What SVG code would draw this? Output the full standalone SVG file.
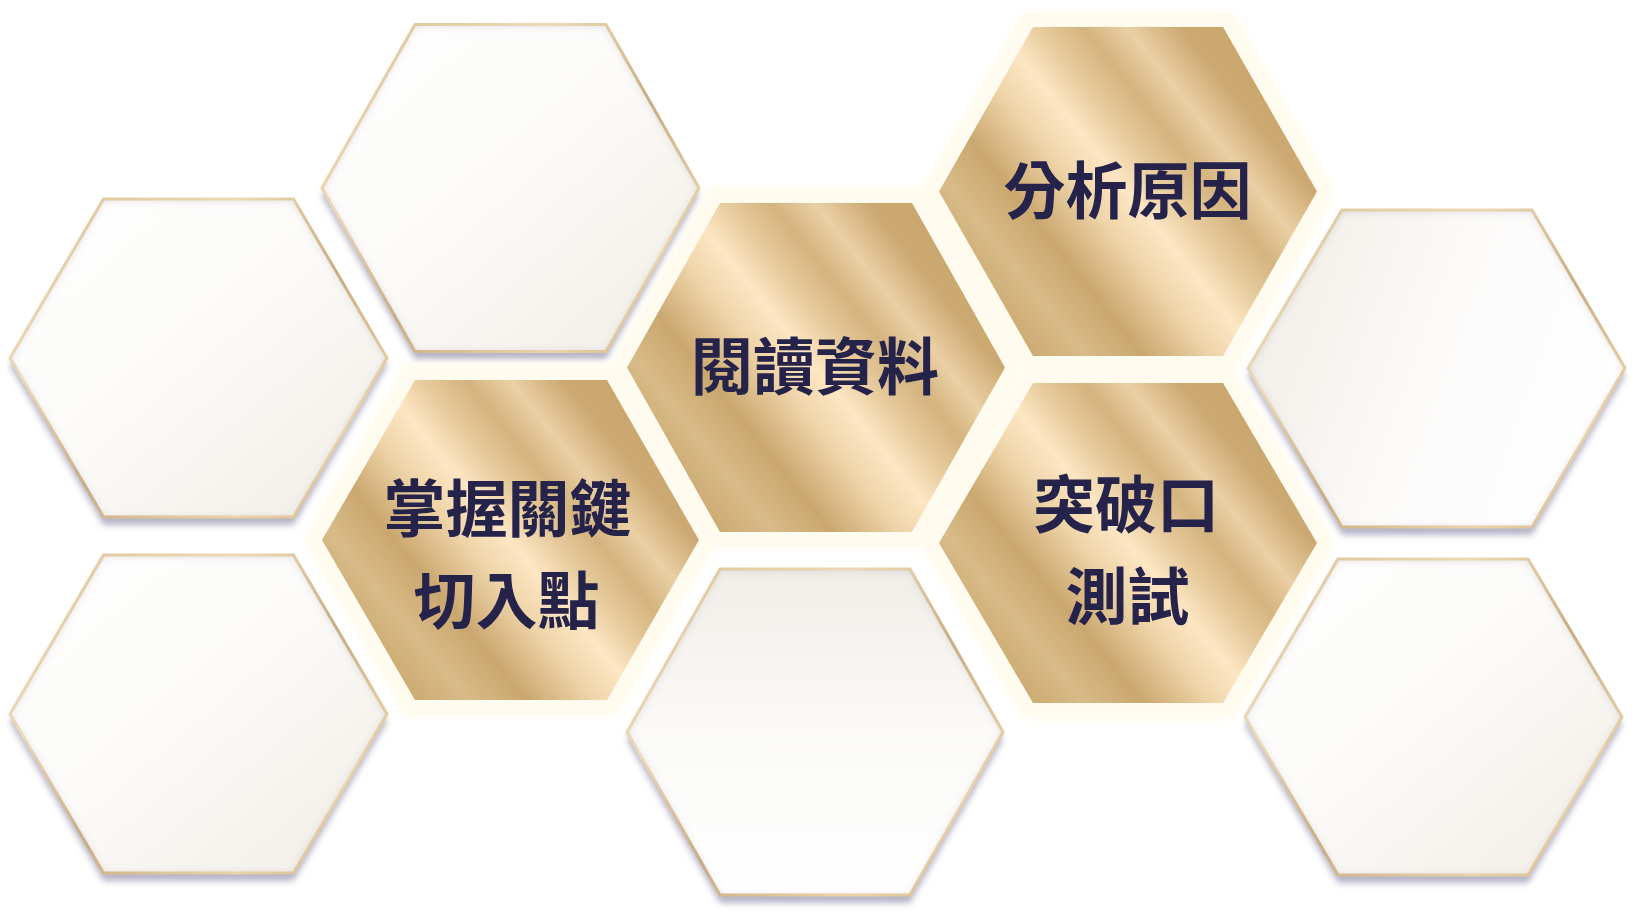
<svg xmlns="http://www.w3.org/2000/svg" xmlns:xlink="http://www.w3.org/1999/xlink" width="1635" height="918" viewBox="0 0 1635 918">
  <style>
    .shadow { fill: #a9a7bd; fill-opacity: 0.85; filter: url(#blurShadow); }
    .face { filter: url(#inset); }
    .rim { fill: none; stroke: url(#rimGrad); stroke-width: 3; stroke-linejoin: miter; }
    .glow { fill: #fffbee; stroke: #fffbee; stroke-width: 34; stroke-linejoin: round; filter: url(#blurGlow); }
    .gold { fill: url(#goldGrad); }
    .label { font-family: "Noto Sans CJK TC", "Noto Sans CJK SC", "Noto Sans", sans-serif; font-weight: 700; font-size: 62px; fill: #26234b; text-anchor: middle; dominant-baseline: central; }
  </style>
  <defs>
    <linearGradient id="goldGrad" x1="0.07" y1="0.8" x2="0.93" y2="0.2">
      <stop offset="0" stop-color="#c9a66d"/>
      <stop offset="0.14" stop-color="#d8bb88"/>
      <stop offset="0.26" stop-color="#caa76f"/>
      <stop offset="0.4" stop-color="#eed4a8"/>
      <stop offset="0.5" stop-color="#fde6c4"/>
      <stop offset="0.59" stop-color="#e6ca9b"/>
      <stop offset="0.68" stop-color="#d4b47f"/>
      <stop offset="0.77" stop-color="#ead0a5"/>
      <stop offset="0.88" stop-color="#cca972"/>
      <stop offset="1" stop-color="#c9a66c"/>
    </linearGradient>
    <linearGradient id="wA" x1="0" y1="0" x2="1" y2="1">
      <stop offset="0" stop-color="#ffffff"/>
      <stop offset="0.45" stop-color="#fcfbf9"/>
      <stop offset="1" stop-color="#f1ede5"/>
    </linearGradient>
    <linearGradient id="wB" x1="0" y1="0" x2="0" y2="1">
      <stop offset="0" stop-color="#f1eee8"/>
      <stop offset="0.5" stop-color="#fbfaf8"/>
      <stop offset="1" stop-color="#ffffff"/>
    </linearGradient>
    <linearGradient id="wC" x1="0" y1="0.35" x2="1" y2="0.65">
      <stop offset="0" stop-color="#f2eee7"/>
      <stop offset="0.5" stop-color="#fcfbfa"/>
      <stop offset="1" stop-color="#ffffff"/>
    </linearGradient>
    <linearGradient id="rimGrad" x1="0" y1="0" x2="1" y2="1">
      <stop offset="0" stop-color="#d9c195"/>
      <stop offset="0.3" stop-color="#ecd9b5"/>
      <stop offset="0.55" stop-color="#c9ad80"/>
      <stop offset="0.8" stop-color="#ead3a9"/>
      <stop offset="1" stop-color="#cdb183"/>
    </linearGradient>
    <filter id="blurShadow" x="-10%" y="-10%" width="120%" height="125%">
      <feGaussianBlur stdDeviation="3"/>
    </filter>
    <filter id="blurGlow" x="-15%" y="-15%" width="130%" height="130%">
      <feGaussianBlur stdDeviation="3"/>
    </filter>
    <filter id="inset" x="-5%" y="-5%" width="110%" height="110%">
      <feFlood flood-color="#aaa7bc" flood-opacity="0.5" result="c"/>
      <feComposite in="c" in2="SourceAlpha" operator="out" result="o"/>
      <feGaussianBlur in="o" stdDeviation="4" result="b"/>
      <feOffset in="b" dx="0" dy="1" result="bo"/>
      <feComposite in="bo" in2="SourceAlpha" operator="in" result="s"/>
      <feMerge><feMergeNode in="SourceGraphic"/><feMergeNode in="s"/></feMerge>
    </filter>
    <polygon id="p-w1" points="322,188 415,24.5 606,24.5 699,188 606,351.5 415,351.5"/>
    <polygon id="p-w2" points="10,358 103.5,199 293.5,199 387,358 293.5,517 103.5,517"/>
    <polygon id="p-w3" points="10,714 103.5,555 293.5,555 387,714 293.5,873 103.5,873"/>
    <polygon id="p-w4" points="627,732 720,569 910,569 1003,732 910,895 720,895"/>
    <polygon id="p-w5" points="1248,368 1342,210 1532,210 1625,368 1532,527 1342,527"/>
    <polygon id="p-w6" points="1245,717 1338,559 1528,559 1622,717 1528,875 1338,875"/>
    <polygon id="p-g1" points="322,540 415,380 607,380 699,540 607,700 415,700"/>
    <polygon id="p-g2" points="627,367.5 720,203 912,203 1005,367.5 912,532 720,532"/>
    <polygon id="p-g3" points="939,191.5 1033,27 1223,27 1317,191.5 1223,356 1033,356"/>
    <polygon id="p-g4" points="939,543 1033,383 1223,383 1317,543 1223,703 1033,703"/>
  </defs>

  <rect width="1635" height="918" fill="#ffffff"/>

  <g id="hex-w1">
    <use href="#p-w1" class="shadow" transform="translate(0,8)"/>
    <use href="#p-w1" class="face" fill="url(#wA)"/>
    <use href="#p-w1" class="rim"/>
  </g>
  <g id="hex-w2">
    <use href="#p-w2" class="shadow" transform="translate(0,8)"/>
    <use href="#p-w2" class="face" fill="url(#wA)"/>
    <use href="#p-w2" class="rim"/>
  </g>
  <g id="hex-w3">
    <use href="#p-w3" class="shadow" transform="translate(0,8)"/>
    <use href="#p-w3" class="face" fill="url(#wA)"/>
    <use href="#p-w3" class="rim"/>
  </g>
  <g id="hex-w4">
    <use href="#p-w4" class="shadow" transform="translate(0,8)"/>
    <use href="#p-w4" class="face" fill="url(#wB)"/>
    <use href="#p-w4" class="rim"/>
  </g>
  <g id="hex-w5">
    <use href="#p-w5" class="shadow" transform="translate(0,8)"/>
    <use href="#p-w5" class="face" fill="url(#wC)"/>
    <use href="#p-w5" class="rim"/>
  </g>
  <g id="hex-w6">
    <use href="#p-w6" class="shadow" transform="translate(0,8)"/>
    <use href="#p-w6" class="face" fill="url(#wA)"/>
    <use href="#p-w6" class="rim"/>
  </g>

  <g id="node-key-entry">
    <use href="#p-g1" class="glow"/>
    <use href="#p-g1" class="gold"/>
    <text class="label" x="507.5" y="505">掌握關鍵</text>
    <text class="label" x="506.5" y="596.5">切入點</text>
  </g>
  <g id="node-read-data">
    <use href="#p-g2" class="glow"/>
    <use href="#p-g2" class="gold"/>
    <text class="label" x="815" y="362.5">閱讀資料</text>
  </g>
  <g id="node-analyze-cause">
    <use href="#p-g3" class="glow"/>
    <use href="#p-g3" class="gold"/>
    <text class="label" x="1127.5" y="187">分析原因</text>
  </g>
  <g id="node-breakthrough-test">
    <use href="#p-g4" class="glow"/>
    <use href="#p-g4" class="gold"/>
    <text class="label" x="1126" y="501">突破口</text>
    <text class="label" x="1127.5" y="592.5">測試</text>
  </g>

  <g id="connectors"></g>
</svg>
